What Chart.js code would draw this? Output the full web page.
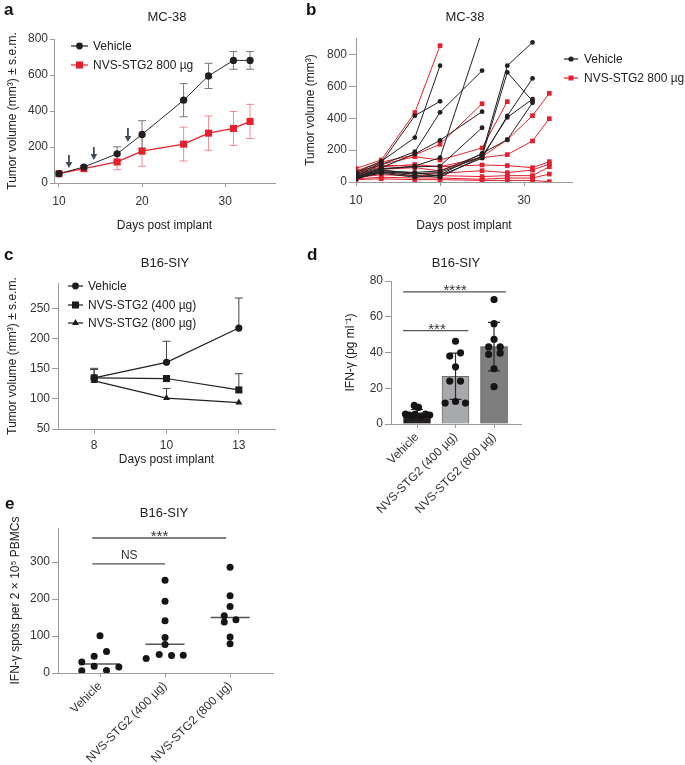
<!DOCTYPE html>
<html><head><meta charset="utf-8">
<script src="https://cdn.jsdelivr.net/npm/chart.js@4.4.1/dist/chart.umd.min.js"></script>
<style>
html,body{margin:0;padding:0;background:#fff;}
body{position:relative;width:685px;height:765px;overflow:hidden;font-family:'Liberation Sans',Arial,sans-serif;}
canvas{position:absolute;}
.pl{position:absolute;font-weight:bold;font-size:17px;line-height:17px;color:#111;}
.pt{position:absolute;font-size:13px;line-height:13px;color:#222;transform:translateX(-50%);white-space:nowrap;}
</style></head><body>
<canvas id="cA" width="300" height="240" style="left:0;top:0"></canvas>
<canvas id="cB" width="385" height="240" style="left:300px;top:0"></canvas>
<canvas id="cC" width="300" height="232" style="left:0;top:240px"></canvas>
<canvas id="cD" width="385" height="280" style="left:300px;top:240px"></canvas>
<canvas id="cE" width="300" height="270" style="left:0;top:495px"></canvas>
<div class="pl" style="left:4px;top:1px">a</div>
<div class="pl" style="left:306px;top:1px">b</div>
<div class="pl" style="left:4px;top:246px">c</div>
<div class="pl" style="left:307px;top:246px">d</div>
<div class="pl" style="left:5px;top:495px">e</div>
<div class="pt" style="left:167px;top:10px">MC-38</div>
<div class="pt" style="left:465px;top:10px">MC-38</div>
<div class="pt" style="left:165px;top:256px">B16-SIY</div>
<div class="pt" style="left:456px;top:256px">B16-SIY</div>
<div class="pt" style="left:164px;top:506px">B16-SIY</div>
<script>
// ---------------- DATA ----------------
// Panel a (mean ± s.e.m.)
const daysA = [10, 13, 17, 20, 25, 28, 31, 33];
const vehicleA = [52, 89, 162, 270, 460, 595, 681, 681];
const vehicleSemA = [0, 0, 39, 76, 92, 70, 49, 49];
const nvs800A = [52, 80, 117, 177, 216, 277, 303, 342];
const nvs800SemA = [0, 0, 43, 84, 94, 95, 94, 95];
const dosingDaysA = [11.2, 14.2, 18.3];
const dosingArrowTopA = [155, 200, 305];
const dosingArrowTipA = [83, 128, 228];

// Panel b (individual mice)
const daysB = [10, 13, 17, 20, 25, 28, 31, 33];
const vehicleMiceB = [
  [60, 130, 279, 731],
  [50, 120, 417, 507],
  [40, 110, 190, 438, 700],
  [30, 80, 100, 153, 950],
  [45, 90, 176, 262, 442],
  [25, 70, 60, 70, 175, 731, 877],
  [20, 65, 50, 60, 160, 689, 509],
  [35, 85, 95, 100, 341],
  [30, 75, 55, 40, 150, 415, 651],
  [20, 60, 40, 30, 160, 406, 521],
  [25, 55, 30, 45, 180, 266, 498]
];
const nvs800MiceB = [
  [85, 138, 436, 857],
  [70, 125, 170, 237, 492],
  [60, 110, 159, 138, 214, 505],
  [55, 95, 110, 96, 153, 172, 258, 398],
  [45, 80, 90, 70, 160, 265, 417, 557],
  [65, 105, 100, 96, 107, 103, 90, 128],
  [40, 60, 55, 55, 71, 59, 75, 113],
  [30, 45, 40, 40, 34, 40, 40, 96],
  [20, 30, 25, 25, 17, 25, 25, 50],
  [15, 20, 15, 15, 10, 10, 10, 2]
];

// Panel c
const daysC = ['8', '10', '13'];
const vehicleC = [135, 161, 218];
const vehicleSemC = [16, 35, 50];
const nvs400C = [135, 134, 115];
const nvs400SemC = [14, 0, 27];
const nvs800C = [130, 101.5, 94];
const nvs800SemC = [0, 16, 0];

// Panel d
const groupsD = ['Vehicle', 'NVS-STG2 (400 µg)', 'NVS-STG2 (800 µg)'];
const meansD = [6.1, 26.7, 43.3];
const sdD = [2.0, 12.9, 13.6];
const vehicleD = [10.4, 9.3, 5.6, 5.0, 5.6, 4.4, 5.6, 5.0, 4.2];
const vehicleJitterD = [-0.07, 0.04, -0.3, -0.2, -0.05, 0.1, 0.22, 0.33, -0.12];
const nvs400D = [46.3, 38, 39.8, 32, 24, 24, 11.7, 12.6, 11.7];
const nvs400JitterD = [0, -0.15, 0.13, 0, -0.15, 0.13, -0.27, 0, 0.26];
const nvs800D = [69.6, 56.1, 47.4, 43.1, 43.1, 38.9, 39.6, 30.9, 20.9];
const nvs800JitterD = [0, 0, 0, -0.14, 0.16, -0.14, 0.16, 0, 0];
const sigD = [
  {x0: -0.36, x1: 2.31, y: 73.9, text: '****', tx: 0.99},
  {x0: -0.36, x1: 1.33, y: 52.2, text: '***', tx: 0.52}
];

// Panel e
const groupsE = ['Vehicle', 'NVS-STG2 (400 µg)', 'NVS-STG2 (800 µg)'];
const vehicleE = [101, 58, 45, 30, 18, 16, 6, 7];
const vehicleJitterE = [0, 0.1, -0.09, -0.28, -0.09, 0.29, -0.28, 0.1];
const nvs400E = [251, 194, 141, 96, 77, 50, 47, 48, 39];
const nvs400JitterE = [0, 0, 0, 0, 0, -0.09, 0.1, 0.28, -0.29];
const nvs800E = [286, 209, 180, 155, 138, 144, 97, 79];
const nvs800JitterE = [0, 0, 0, -0.09, -0.09, 0.09, 0, 0];
const mediansE = [24, 77.5, 150];
const sigE = [
  {x0: -0.12, x1: 1.94, y: 365, text: '***', tx: 0.915},
  {x0: -0.12, x1: 1.0, y: 295, text: 'NS', tx: 0.45}
];

// ---------------- STYLE / HELPERS ----------------
const F = "'Liberation Sans', Arial, sans-serif";
Chart.defaults.font.family = F;
Chart.defaults.font.size = 12;
Chart.defaults.color = '#333';
const AX = '#9a9a9a';
const BLK = '#231f20';
const RED = '#e5202e';

function axis(o) {
  const s = {
    type: o.type || 'linear',
    offset: !!o.offset,
    grid: {display: true, drawOnChartArea: false, drawTicks: true, tickLength: o.tickLen || 5,
           color: AX, tickColor: AX, offset: false},
    border: {display: true, color: AX, width: 1},
    ticks: {padding: o.pad == null ? 3 : o.pad, color: '#333', font: {size: 12}, autoSkip: false,
            maxRotation: o.rot || 0, minRotation: o.rot || 0},
    title: {display: !!o.title, text: o.title, color: '#222', font: {size: 12},
            padding: {top: o.titlePad || 0, bottom: o.titlePad || 0}},
    afterFit: o.isY ? (sc) => { sc.width = o.size; } : (sc) => { sc.height = o.size; }
  };
  if (o.min !== undefined) s.min = o.min;
  if (o.max !== undefined) s.max = o.max;
  if (o.ticksAt) s.afterBuildTicks = (sc) => { sc.ticks = o.ticksAt.map(v => ({value: v})); };
  if (o.labels) s.ticks.callback = (v) => o.labels[v];
  return s;
}

function marker(ctx, style, x, y, r, color) {
  ctx.save();
  ctx.fillStyle = color;
  ctx.beginPath();
  if (style === 'circle') ctx.arc(x, y, r, 0, Math.PI * 2);
  else if (style === 'rect') { const s = r * Math.SQRT1_2; ctx.rect(x - s, y - s, 2 * s, 2 * s); }
  else if (style === 'triangle') {
    let a = 0;
    ctx.moveTo(x + Math.sin(a) * r, y - Math.cos(a) * r);
    a += 2 * Math.PI / 3; ctx.lineTo(x + Math.sin(a) * r, y - Math.cos(a) * r);
    a += 2 * Math.PI / 3; ctx.lineTo(x + Math.sin(a) * r, y - Math.cos(a) * r);
    ctx.closePath();
  }
  ctx.fill();
  ctx.restore();
}

function legendPlugin(items, x0, x1, tx) {
  return {id: 'customLegend', afterDraw(chart) {
    const ctx = chart.ctx;
    items.forEach(it => {
      ctx.save();
      ctx.strokeStyle = it.color; ctx.lineWidth = 1.2;
      ctx.beginPath(); ctx.moveTo(x0, it.y); ctx.lineTo(x1, it.y); ctx.stroke();
      marker(ctx, it.style, (x0 + x1) / 2, it.y, it.r, it.color);
      ctx.fillStyle = '#222'; ctx.font = '12px ' + F; ctx.textBaseline = 'middle'; ctx.textAlign = 'left';
      ctx.fillText(it.label, tx, it.y + 0.5);
      ctx.restore();
    });
  }};
}

function errPlugin(specs, hook) {
  const draw = (chart) => {
    const ctx = chart.ctx, ys = chart.scales.y;
    specs.forEach(s => {
      const meta = chart.getDatasetMeta(s.ds);
      ctx.save(); ctx.strokeStyle = s.color; ctx.lineWidth = s.lw || 1;
      meta.data.forEach((pt, i) => {
        const raw = chart.data.datasets[s.ds].data[i];
        const val = (raw && typeof raw === 'object') ? raw.y : raw;
        const up = s.up[i] || 0, dn = s.down ? (s.down[i] || 0) : 0;
        if (!up && !dn) return;
        const x = pt.x, yT = ys.getPixelForValue(val + up), yB = ys.getPixelForValue(val - dn);
        ctx.beginPath(); ctx.moveTo(x, yB); ctx.lineTo(x, yT);
        if (up) { ctx.moveTo(x - s.cap, yT); ctx.lineTo(x + s.cap, yT); }
        if (dn) { ctx.moveTo(x - s.cap, yB); ctx.lineTo(x + s.cap, yB); }
        ctx.stroke();
      });
      ctx.restore();
    });
  };
  if (hook === 'afterFirst') return {id: 'errBars', afterDatasetDraw(chart, args) { if (args.index === 0) draw(chart); }};
  return {id: 'errBars', beforeDatasetsDraw: draw};
}

function sigPlugin(items) {
  return {id: 'sigBars', afterDatasetsDraw(chart) {
    const xs = chart.scales.x, ys = chart.scales.y, ctx = chart.ctx;
    items.forEach(it => {
      const x0 = xs.getPixelForValue(it.x0), x1 = xs.getPixelForValue(it.x1), py = ys.getPixelForValue(it.y);
      ctx.save();
      ctx.strokeStyle = '#555'; ctx.lineWidth = 1.3;
      ctx.beginPath(); ctx.moveTo(x0, py); ctx.lineTo(x1, py); ctx.stroke();
      ctx.fillStyle = '#333'; ctx.textAlign = 'center'; ctx.textBaseline = 'alphabetic';
      if (it.text === 'NS') { ctx.font = '12px ' + F; ctx.fillText(it.text, xs.getPixelForValue(it.tx), py - 5); }
      else { ctx.font = '15px ' + F; ctx.fillText(it.text, xs.getPixelForValue(it.tx), py + 3.5); }
      ctx.restore();
    });
  }};
}

const baseOpts = (pad) => ({
  responsive: false, animation: false, devicePixelRatio: window.devicePixelRatio || 1,
  layout: {padding: pad},
  plugins: {legend: {display: false}, tooltip: {enabled: false}},
  elements: {line: {tension: 0}}
});

// ---------------- PANEL A ----------------
(function () {
  const arrows = {id: 'dosing', afterDatasetsDraw(chart) {
    const xs = chart.scales.x, ys = chart.scales.y, ctx = chart.ctx;
    ctx.save(); ctx.strokeStyle = '#3e4b5e'; ctx.fillStyle = '#3e4b5e'; ctx.lineWidth = 1.8;
    dosingDaysA.forEach((d, i) => {
      const px = xs.getPixelForValue(d), y0 = ys.getPixelForValue(dosingArrowTopA[i]), y1 = ys.getPixelForValue(dosingArrowTipA[i]);
      ctx.beginPath(); ctx.moveTo(px, y0); ctx.lineTo(px, y1 - 5); ctx.stroke();
      ctx.beginPath(); ctx.moveTo(px - 3.3, y1 - 6); ctx.lineTo(px + 3.3, y1 - 6); ctx.lineTo(px, y1); ctx.closePath(); ctx.fill();
    });
    ctx.restore();
  }};
  const opts = baseOpts({left: 0, top: 39, right: 25, bottom: 3});
  opts.scales = {
    x: axis({min: 9.4, max: 36, ticksAt: [10, 20, 30], size: 54, tickLen: 4, pad: 7, title: 'Days post implant', titlePad: 4}),
    y: axis({isY: true, min: 0, max: 800, ticksAt: [0, 200, 400, 600, 800], size: 54, tickLen: 4, pad: 2, title: 'Tumor volume (mm³) ± s.e.m.', titlePad: 5})
  };
  new Chart(document.getElementById('cA'), {
    type: 'line',
    data: {datasets: [
      {label: 'Vehicle', data: daysA.map((d, i) => ({x: d, y: vehicleA[i]})), borderColor: '#2a2a2a', backgroundColor: BLK,
       borderWidth: 1, pointStyle: 'circle', pointRadius: 3.6, pointBorderWidth: 0},
      {label: 'NVS-STG2 800 µg', data: daysA.map((d, i) => ({x: d, y: nvs800A[i]})), borderColor: RED, backgroundColor: RED,
       borderWidth: 1.3, pointStyle: 'rect', pointRadius: 5, pointBorderWidth: 0}
    ]},
    options: opts,
    plugins: [
      errPlugin([
        {ds: 1, up: nvs800SemA, down: nvs800SemA, color: 'rgba(229,32,46,0.5)', cap: 4},
        {ds: 0, up: vehicleSemA, down: vehicleSemA, color: '#777', cap: 4}
      ]),
      arrows,
      legendPlugin([
        {label: 'Vehicle', color: BLK, style: 'circle', r: 3.4, y: 46},
        {label: 'NVS-STG2 800 µg', color: RED, style: 'rect', r: 5, y: 65}
      ], 71, 88, 93)
    ]
  });
})();

// ---------------- PANEL B ----------------
(function () {
  const ds = [];
  vehicleMiceB.forEach(m => ds.push({data: m.map((v, i) => ({x: daysB[i], y: v})), borderColor: BLK, backgroundColor: BLK,
    borderWidth: 1, pointStyle: 'circle', pointRadius: 2.4, pointBorderWidth: 0}));
  nvs800MiceB.forEach(m => ds.push({data: m.map((v, i) => ({x: daysB[i], y: v})), borderColor: RED, backgroundColor: RED,
    borderWidth: 1, pointStyle: 'rect', pointRadius: 3.3, pointBorderWidth: 0}));
  const opts = baseOpts({left: 0, top: 38, right: 113, bottom: 3});
  opts.scales = {
    x: axis({min: 10, max: 35.7, ticksAt: [10, 20, 30], size: 55, tickLen: 4, pad: 7, title: 'Days post implant', titlePad: 4}),
    y: axis({isY: true, min: 0, max: 905, ticksAt: [0, 200, 400, 600, 800], size: 56, tickLen: 7, pad: 2, title: 'Tumor volume (mm³)', titlePad: 3})
  };
  new Chart(document.getElementById('cB'), {
    type: 'line', data: {datasets: ds}, options: opts,
    plugins: [legendPlugin([
      {label: 'Vehicle', color: BLK, style: 'circle', r: 2.6, y: 59},
      {label: 'NVS-STG2 800 µg', color: RED, style: 'rect', r: 3.5, y: 78}
    ], 264, 278, 284)]
  });
})();

// ---------------- PANEL C ----------------
(function () {
  const opts = baseOpts({left: 0, top: 43, right: 25, bottom: 3});
  opts.scales = {
    x: axis({type: 'category', offset: true, size: 40, tickLen: 5, pad: 4, title: 'Days post implant', titlePad: 2}),
    y: axis({isY: true, min: 50, max: 293, ticksAt: [50, 100, 150, 200, 250], size: 58, tickLen: 6, pad: 2, title: 'Tumor volume (mm³) ± s.e.m.', titlePad: 5})
  };
  new Chart(document.getElementById('cC'), {
    type: 'line',
    data: {labels: daysC, datasets: [
      {data: vehicleC, borderColor: '#222', backgroundColor: '#1c1c1c', borderWidth: 1.2, pointStyle: 'circle', pointRadius: 3.6, pointBorderWidth: 0},
      {data: nvs400C, borderColor: '#222', backgroundColor: '#1c1c1c', borderWidth: 1.2, pointStyle: 'rect', pointRadius: 5, pointBorderWidth: 0},
      {data: nvs800C, borderColor: '#222', backgroundColor: '#1c1c1c', borderWidth: 1.2, pointStyle: 'triangle', pointRadius: 4, pointBorderWidth: 0}
    ]},
    options: opts,
    plugins: [
      errPlugin([
        {ds: 0, up: vehicleSemC, color: '#444', cap: 4},
        {ds: 1, up: nvs400SemC, color: '#444', cap: 4},
        {ds: 2, up: nvs800SemC, color: '#444', cap: 4}
      ]),
      legendPlugin([
        {label: 'Vehicle', color: '#1c1c1c', style: 'circle', r: 3.4, y: 46},
        {label: 'NVS-STG2 (400 µg)', color: '#1c1c1c', style: 'rect', r: 5, y: 65},
        {label: 'NVS-STG2 (800 µg)', color: '#1c1c1c', style: 'triangle', r: 4, y: 83}
      ], 68, 83, 88)
    ]
  });
})();

// ---------------- PANEL D ----------------
(function () {
  const opts = baseOpts({left: 39, top: 41, right: 164, bottom: 0});
  opts.scales = {
    x: axis({min: -0.675, max: 2.7, ticksAt: [0, 1, 2], labels: groupsD, size: 96, tickLen: 4, pad: 2, rot: 45}),
    y: axis({isY: true, min: 0, max: 80, ticksAt: [0, 20, 40, 60, 80], size: 52, tickLen: 6, pad: 2, title: 'IFN-γ (pg ml⁻¹)', titlePad: 4})
  };
  const pts = (vals, jit, g) => vals.map((v, i) => ({x: g + jit[i], y: v}));
  new Chart(document.getElementById('cD'), {
    type: 'bar',
    data: {datasets: [
      {type: 'bar', data: meansD.map((m, i) => ({x: i, y: m})), backgroundColor: ['#231f20', '#a7a9ac', '#7d7e80'],
       borderColor: ['#231f20', '#6e6e6e', '#555'], borderWidth: 1, barThickness: 27, order: 2},
      {type: 'scatter', data: pts(vehicleD, vehicleJitterD, 0).concat(pts(nvs400D, nvs400JitterD, 1), pts(nvs800D, nvs800JitterD, 2)),
       backgroundColor: '#151515', pointRadius: 3.6, pointBorderWidth: 0, order: 1}
    ]},
    options: opts,
    plugins: [errPlugin([{ds: 0, up: sdD, down: sdD, color: '#2a2a2a', cap: 6, lw: 1.2}], 'afterFirst'), sigPlugin(sigD)]
  });
})();

// ---------------- PANEL E ----------------
(function () {
  const medians = {id: 'medians', beforeDatasetsDraw(chart) {
    const xs = chart.scales.x, ys = chart.scales.y, ctx = chart.ctx;
    ctx.save(); ctx.strokeStyle = '#555'; ctx.lineWidth = 1.5;
    mediansE.forEach((m, g) => {
      const py = ys.getPixelForValue(m);
      ctx.beginPath(); ctx.moveTo(xs.getPixelForValue(g - 0.3), py); ctx.lineTo(xs.getPixelForValue(g + 0.3), py); ctx.stroke();
    });
    ctx.restore();
  }};
  const opts = baseOpts({left: 3, top: 33, right: 27, bottom: 0});
  opts.scales = {
    x: axis({min: -0.646, max: 2.66, ticksAt: [0, 1, 2], labels: groupsE, size: 92, tickLen: 4, pad: 2, rot: 45}),
    y: axis({isY: true, min: 0, max: 392, ticksAt: [0, 100, 200, 300], size: 55, tickLen: 6, pad: 2, title: 'IFN-γ spots per 2 × 10⁵ PBMCs', titlePad: 5})
  };
  const pts = (vals, jit, g) => vals.map((v, i) => ({x: g + jit[i], y: v}));
  new Chart(document.getElementById('cE'), {
    type: 'scatter',
    data: {datasets: [
      {data: pts(vehicleE, vehicleJitterE, 0), backgroundColor: '#151515', pointRadius: 3.5, pointBorderWidth: 0},
      {data: pts(nvs400E, nvs400JitterE, 1), backgroundColor: '#151515', pointRadius: 3.5, pointBorderWidth: 0},
      {data: pts(nvs800E, nvs800JitterE, 2), backgroundColor: '#151515', pointRadius: 3.5, pointBorderWidth: 0}
    ]},
    options: opts,
    plugins: [medians, sigPlugin(sigE)]
  });
})();
</script>
</body></html>
